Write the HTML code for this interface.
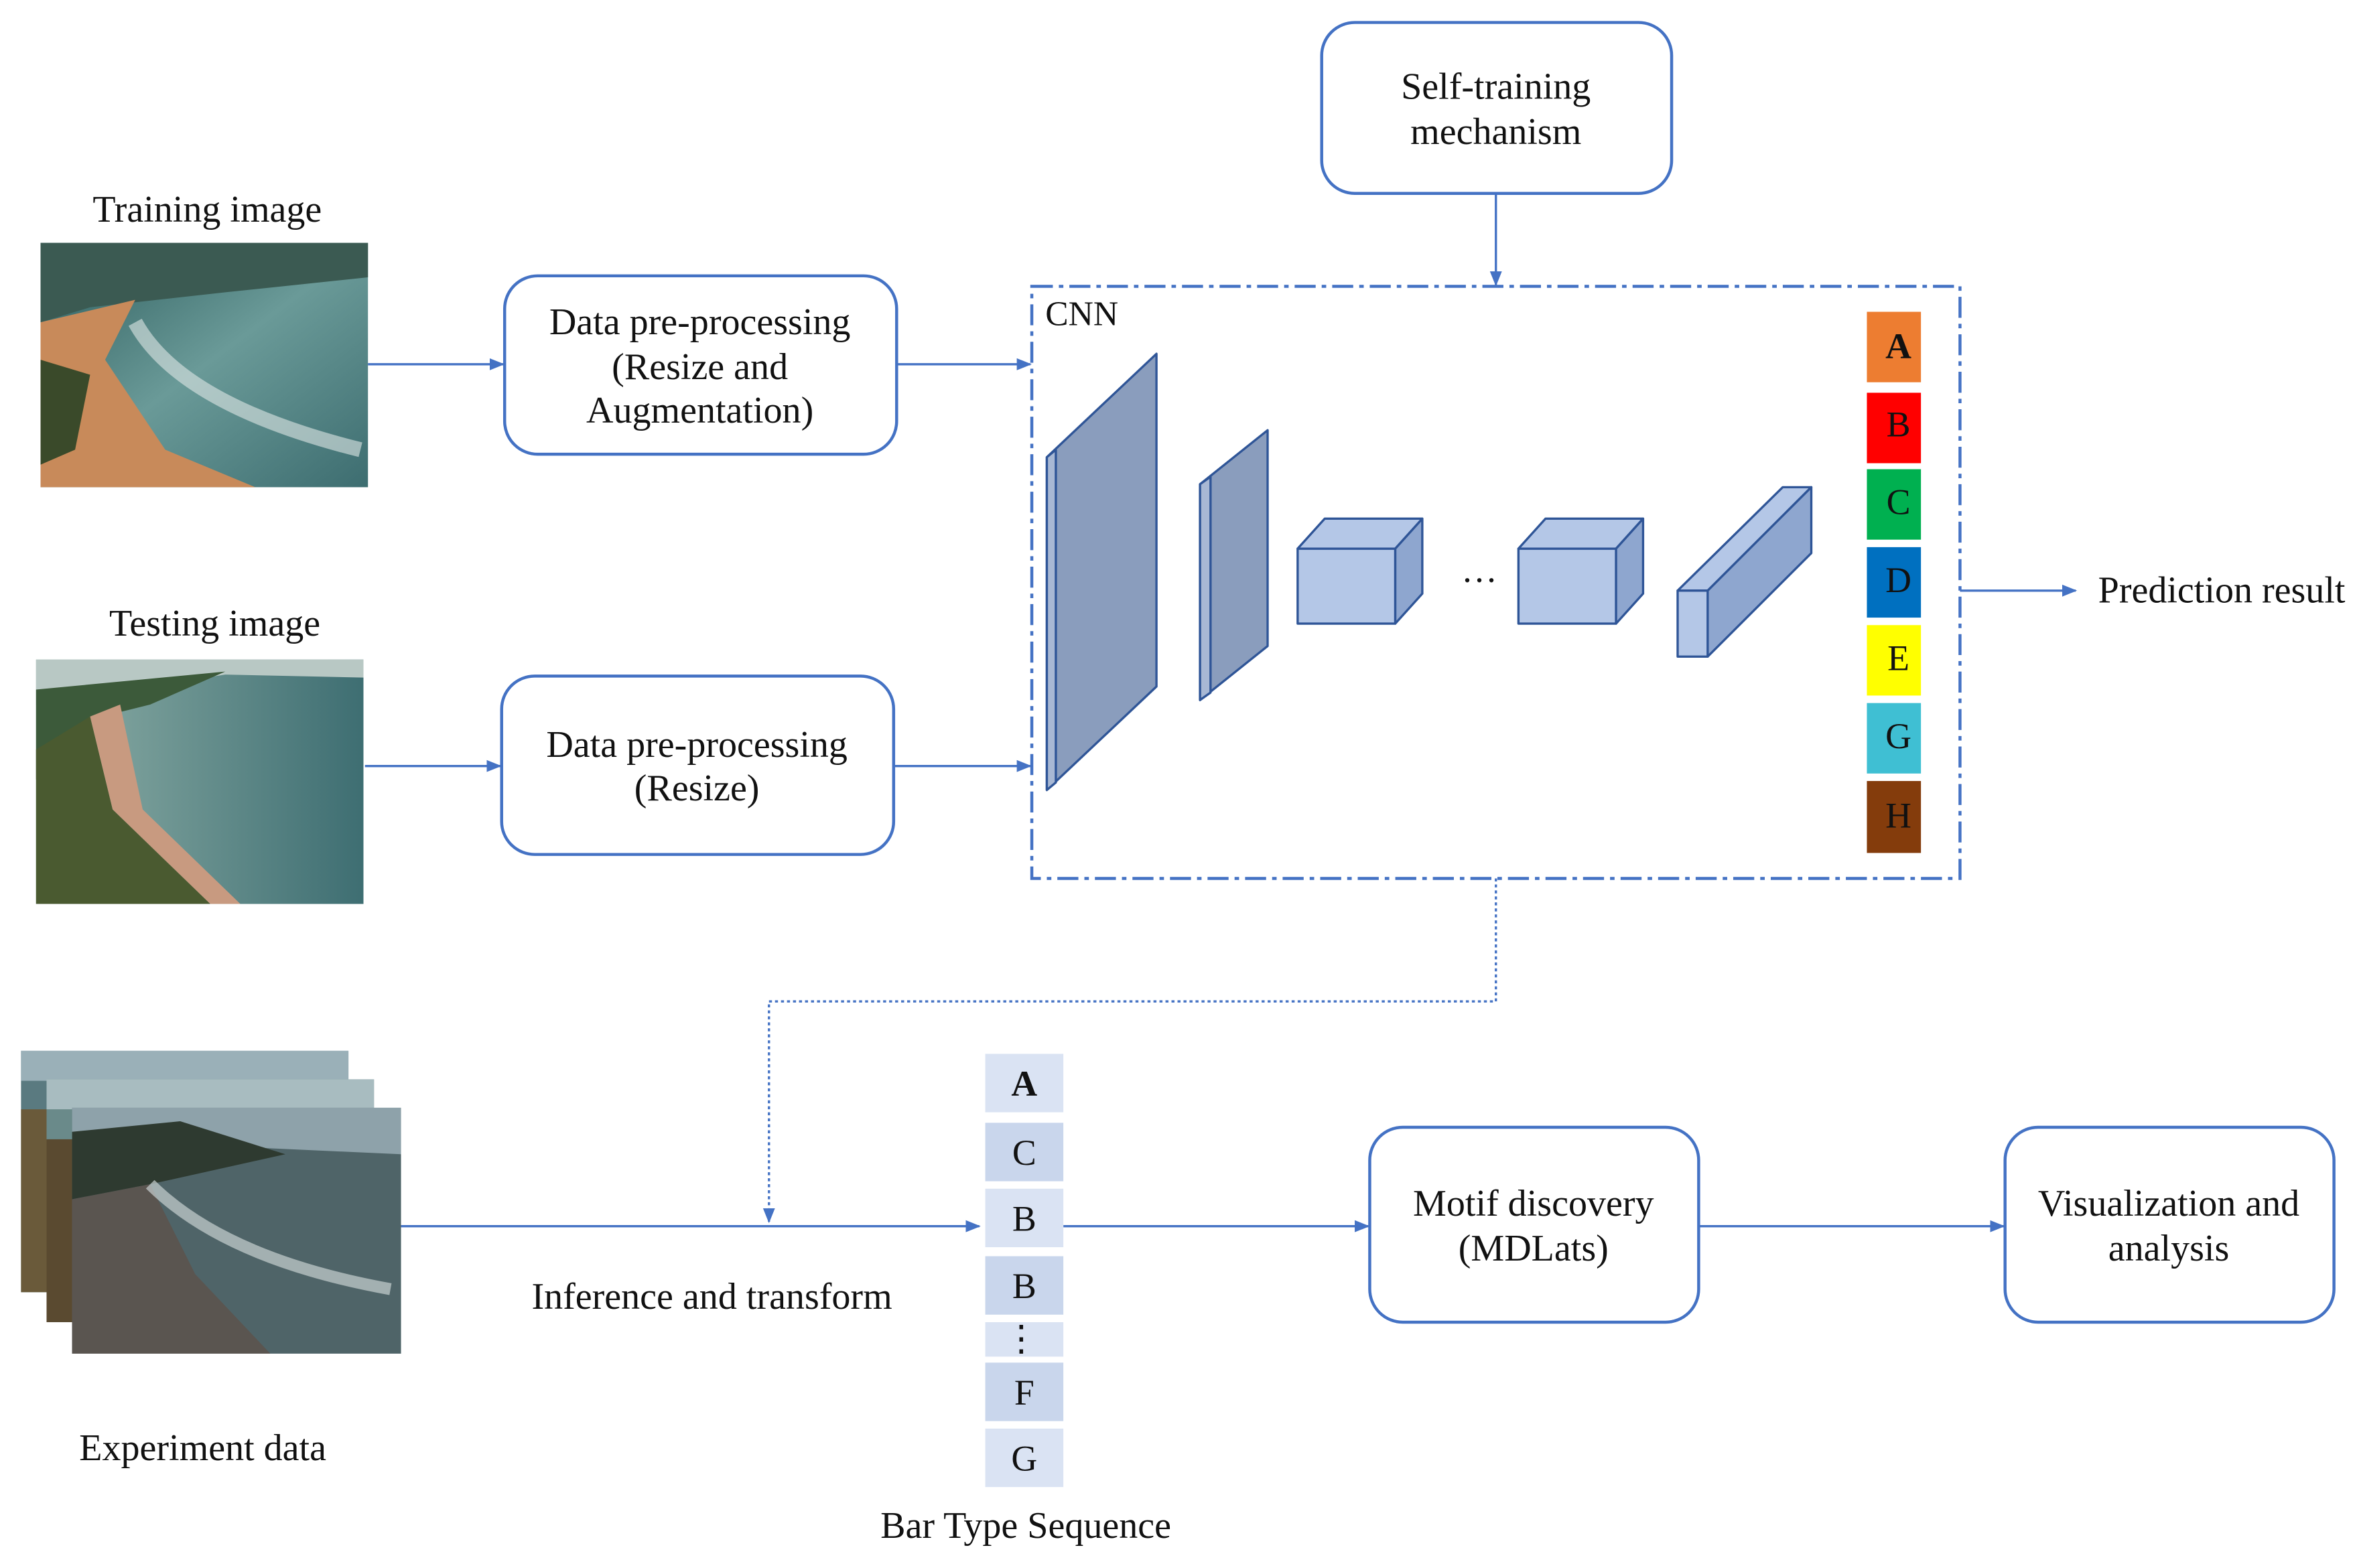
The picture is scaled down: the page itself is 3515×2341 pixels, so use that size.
<!DOCTYPE html>
<html><head><meta charset="utf-8"><style>
html,body{margin:0;padding:0;background:#fff;}
svg{display:block;}
text{font-family:"Liberation Serif",serif;fill:#111;}
</style></head><body>
<svg width="3515" height="2341" viewBox="0 0 1568 1046" preserveAspectRatio="none" xmlns="http://www.w3.org/2000/svg">
<defs>
<marker id="ar" markerWidth="10" markerHeight="10" refX="9" refY="5" orient="auto" markerUnits="userSpaceOnUse"><path d="M0,1 L10,5 L0,9 z" fill="#4472c4"/></marker>
<linearGradient id="sea" x1="0" y1="0" x2="1" y2="1"><stop offset="0" stop-color="#2a5a5a"/><stop offset="0.5" stop-color="#6a9a98"/><stop offset="1" stop-color="#3d6d70"/></linearGradient>
<linearGradient id="sea2" x1="0" y1="0" x2="1" y2="0"><stop offset="0" stop-color="#8fb0a8"/><stop offset="1" stop-color="#3e6e72"/></linearGradient>
</defs>
<g stroke="none">
<rect x="27" y="162" width="218" height="163" fill="url(#sea)"/>
<polygon points="27,162 245,162 245,185 150,195 60,205 27,215" fill="#3b5a52"/>
<polygon points="27,215 90,200 70,240 110,300 170,325 27,325" fill="#c88a5a"/>
<polygon points="27,240 60,250 50,300 27,310" fill="#3a4a2a"/>
<path d="M90,215 Q120,270 240,300" stroke="#dfe8e6" stroke-width="10" fill="none" opacity="0.6"/>
<rect x="24" y="440" width="218" height="163" fill="url(#sea2)"/>
<polygon points="24,440 242,440 242,452 150,450 24,470" fill="#b8c8c4"/>
<polygon points="24,460 150,448 100,470 60,480 24,520" fill="#3c5a3a"/>
<polygon points="24,500 60,478 75,540 140,603 24,603" fill="#4a5a30"/>
<polygon points="60,478 80,470 95,540 160,603 140,603 75,540" fill="#c89a80"/>
<rect x="14" y="701" width="218" height="161" fill="#5a7a80"/>
<rect x="14" y="701" width="218" height="20" fill="#9ab0b8"/>
<rect x="14" y="740" width="30" height="122" fill="#6a5a3a"/>
<rect x="31" y="720" width="218" height="162" fill="#6a8a8a"/>
<rect x="31" y="720" width="218" height="20" fill="#a8bcc0"/>
<rect x="31" y="760" width="20" height="122" fill="#5a4a30"/>
<rect x="48" y="739" width="219" height="164" fill="#4f6468"/>
<polygon points="48,739 267,739 267,770 48,760" fill="#8ea2aa"/>
<polygon points="48,755 120,748 190,770 100,790 48,800" fill="#2e3a30"/>
<polygon points="48,800 100,790 130,850 180,903 48,903" fill="#5a5550"/>
<path d="M100,790 Q150,840 260,860" stroke="#c8d0d0" stroke-width="8" fill="none" opacity="0.7"/>
</g>
<g font-size="25" text-anchor="middle">
<text x="138" y="148">Training image</text>
<text x="143" y="424">Testing image</text>
<text x="135" y="974">Experiment data</text>
</g>
<g fill="none" stroke="#4472c4" stroke-width="2">
<rect x="336" y="184" width="261" height="119" rx="22"/>
<rect x="334" y="451" width="261" height="119" rx="22"/>
<rect x="880" y="15" width="233" height="114" rx="22"/>
<rect x="912" y="752" width="219" height="130" rx="22"/>
<rect x="1335" y="752" width="219" height="130" rx="22"/>
<rect x="687" y="191" width="618" height="395" stroke-dasharray="14,4,3,4"/>
<line x1="245" y1="243" x2="335" y2="243" stroke-width="1.5" marker-end="url(#ar)"/>
<line x1="597" y1="243" x2="686" y2="243" stroke-width="1.5" marker-end="url(#ar)"/>
<line x1="243" y1="511" x2="333" y2="511" stroke-width="1.5" marker-end="url(#ar)"/>
<line x1="595" y1="511" x2="686" y2="511" stroke-width="1.5" marker-end="url(#ar)"/>
<line x1="996" y1="129" x2="996" y2="190" stroke-width="1.5" marker-end="url(#ar)"/>
<line x1="1305" y1="394" x2="1382" y2="394" stroke-width="1.5" marker-end="url(#ar)"/>
<polyline points="996,586 996,668 512,668 512,815" stroke-width="1.5" stroke-dasharray="2,2" marker-end="url(#ar)"/>
<line x1="267" y1="818" x2="652" y2="818" stroke-width="1.5" marker-end="url(#ar)"/>
<line x1="708" y1="818" x2="911" y2="818" stroke-width="1.5" marker-end="url(#ar)"/>
<line x1="1131" y1="818" x2="1334" y2="818" stroke-width="1.5" marker-end="url(#ar)"/>
</g>
<g stroke="#2f5597" stroke-width="1.5" stroke-linejoin="round">
<polygon points="697,305 770,236 770,458 697,527" fill="#8a9dbd"/>
<polygon points="697,305 703,300 703,522 697,527" fill="#a8b8d4"/>
<polygon points="799,323 844,287 844,431 799,467" fill="#8a9dbd"/>
<polygon points="799,323 806,318 806,462 799,467" fill="#a8b8d4"/>
<rect x="864" y="366" width="65" height="50" fill="#b4c7e7"/>
<polygon points="864,366 882,346 947,346 929,366" fill="#b4c7e7"/>
<polygon points="929,366 947,346 947,396 929,416" fill="#8ea6cf"/>
<rect x="1011" y="366" width="65" height="50" fill="#b4c7e7"/>
<polygon points="1011,366 1029,346 1094,346 1076,366" fill="#b4c7e7"/>
<polygon points="1076,366 1094,346 1094,396 1076,416" fill="#8ea6cf"/>
<polygon points="1117,394 1187,325 1206,325 1137,394" fill="#b4c7e7"/>
<polygon points="1137,394 1206,325 1206,369 1137,438" fill="#8ea6cf"/>
<rect x="1117" y="394" width="20" height="44" fill="#b4c7e7"/>
</g>
<text x="985" y="388" font-size="24" text-anchor="middle">…</text>
<text x="696" y="217" font-size="23">CNN</text>
<g>
<rect x="1243" y="208" width="36" height="47" fill="#ed7d31"/>
<rect x="1243" y="262" width="36" height="47" fill="#ff0000"/>
<rect x="1243" y="313" width="36" height="47" fill="#00b050"/>
<rect x="1243" y="365" width="36" height="47" fill="#0070c0"/>
<rect x="1243" y="417" width="36" height="47" fill="#ffff00"/>
<rect x="1243" y="469" width="36" height="47" fill="#3fbfd3"/>
<rect x="1243" y="521" width="36" height="48" fill="#843c0c"/>
</g>
<g font-size="24" text-anchor="middle">
<text x="1264" y="239" font-weight="bold">A</text>
<text x="1264" y="291">B</text>
<text x="1264" y="343">C</text>
<text x="1264" y="395">D</text>
<text x="1264" y="447">E</text>
<text x="1264" y="499">G</text>
<text x="1264" y="552">H</text>
</g>
<g>
<rect x="656" y="703" width="52" height="39" fill="#dae3f3"/>
<rect x="656" y="749" width="52" height="39" fill="#c9d6ec"/>
<rect x="656" y="793" width="52" height="39" fill="#dae3f3"/>
<rect x="656" y="838" width="52" height="39" fill="#c9d6ec"/>
<rect x="656" y="882" width="52" height="23" fill="#dae3f3"/>
<rect x="656" y="909" width="52" height="39" fill="#c9d6ec"/>
<rect x="656" y="953" width="52" height="39" fill="#dae3f3"/>
</g>
<g font-size="24" text-anchor="middle">
<text x="682" y="731" font-weight="bold">A</text>
<text x="682" y="777">C</text>
<text x="682" y="821">B</text>
<text x="682" y="866">B</text>
<text x="680" y="901">⋮</text>
<text x="682" y="937">F</text>
<text x="682" y="981">G</text>
</g>
<g font-size="25" text-anchor="middle">
<text x="683" y="1026">Bar Type Sequence</text>
<text x="474" y="873">Inference and transform</text>
<text x="466" y="223">Data pre-processing</text>
<text x="466" y="253">(Resize and</text>
<text x="466" y="282">Augmentation)</text>
<text x="464" y="505">Data pre-processing</text>
<text x="464" y="534">(Resize)</text>
<text x="996" y="66">Self-training</text>
<text x="996" y="96">mechanism</text>
<text x="1021" y="811">Motif discovery</text>
<text x="1021" y="841">(MDLats)</text>
<text x="1444" y="811">Visualization and</text>
<text x="1444" y="841">analysis</text>
</g>
<text x="1397" y="402" font-size="25">Prediction result</text>
</svg>
</body></html>
